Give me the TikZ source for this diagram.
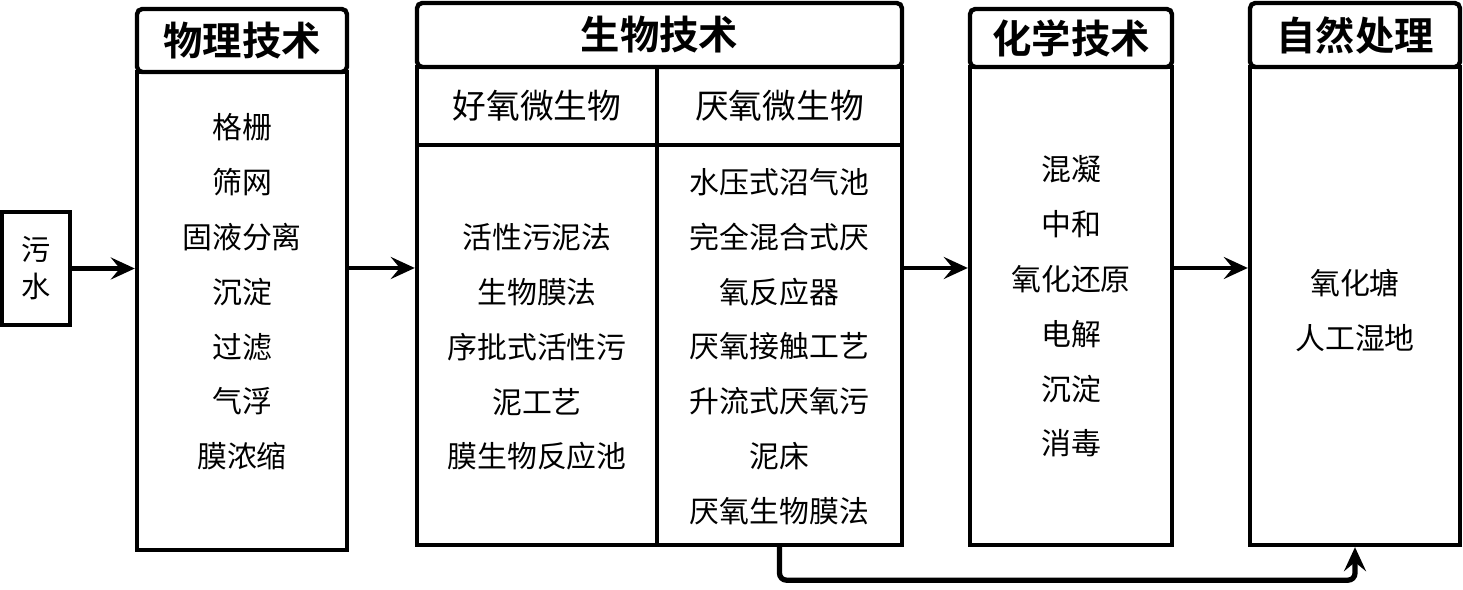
\documentclass[tikz,border=0pt]{standalone}
\usepackage{fontspec}
\setmainfont{Noto Sans CJK SC}[BoldFont={Noto Sans CJK SC Bold}]
\usetikzlibrary{arrows.meta,positioning}
\tikzset{
  >={Stealth[length=2.4mm,width=2.2mm,inset=0.9mm]},
  head/.style={draw,line width=1.25pt,rounded corners=1.5pt,minimum width=#1,
    minimum height=6.4mm,inner sep=0pt,font=\fontsize{11.2}{13}\selectfont\bfseries},
  head/.default=21mm,
  subhead/.style={draw,line width=1.25pt,minimum width=#1,minimum height=7.8mm,
    inner sep=0pt,font=\fontsize{9.6}{11}\selectfont},
  subhead/.default=24mm,
  panel/.style={draw,line width=1.25pt,minimum width=#1,inner sep=0pt},
  panel/.default=21mm,
  items/.style={align=center,inner sep=0pt,font=\fontsize{8.5}{15.6}\selectfont},
  flow/.style={->,line width=1.3pt},
}
\begin{document}
\begin{tikzpicture}
  \useasboundingbox (0,0) rectangle (14.63,-5.90);
  % source
  \node[panel=6.8mm,minimum height=11.3mm,align=center,
    font=\fontsize{8.3}{10.5}\selectfont] (water) at (0.36,-2.685) {污\\水};
  % physical
  \node[head=21mm,minimum height=6.3mm] (physhead) at (2.42,-0.405) {物理技术};
  \node[panel=21mm,minimum height=47.8mm] (physbody) at (2.42,-3.11) {};
  \node[items] (physlist) at (2.42,-2.92) {格栅\\筛网\\固液分离\\沉淀\\过滤\\气浮\\膜浓缩};
  % biological
  \node[head=48.5mm] (biohead) at (6.595,-0.35) {生物技术};
  \node[subhead=24mm] (aerohead) at (5.37,-1.06) {好氧微生物};
  \node[subhead=24.5mm] (anaerohead) at (7.795,-1.06) {厌氧微生物};
  \node[panel=24mm,minimum height=40mm] (bioL) at (5.37,-3.45) {};
  \node[panel=24.5mm,minimum height=40mm] (bioR) at (7.795,-3.45) {};
  \node[items] (aerolist) at (5.37,-3.47) {活性污泥法\\生物膜法\\序批式活性污\\泥工艺\\膜生物反应池};
  \node[items] (anaerolist) at (7.795,-3.465) {水压式沼气池\\完全混合式厌\\氧反应器\\厌氧接触工艺\\升流式厌氧污\\泥床\\厌氧生物膜法};
  % chemical
  \node[head=20.2mm,minimum height=5.8mm] (chemhead) at (10.71,-0.38) {化学技术};
  \node[panel=20.2mm,minimum height=47.8mm] (chembody) at (10.71,-3.06) {};
  \node[items] (chemlist) at (10.71,-3.065) {混凝\\中和\\氧化还原\\电解\\沉淀\\消毒};
  % natural
  \node[head=21mm] (nathead) at (13.55,-0.35) {自然处理};
  \node[panel=21mm,minimum height=47.8mm] (natbody) at (13.55,-3.06) {};
  \node[items] (natlist) at (13.55,-3.105) {氧化塘\\人工湿地};
  % connectors
  \coordinate (lvl) at (0,-2.68);
  \draw[flow] (water.east) -- (water.east -| physbody.west);
  \draw[flow] (physbody.east |- lvl) -- (lvl -| bioL.west);
  \draw[flow] (bioR.east |- lvl) -- (lvl -| chembody.west);
  \draw[flow] (chembody.east |- lvl) -- (lvl -| natbody.west);
  \draw[flow,line width=1.5pt,rounded corners=2pt] (bioR.south) -- ++(0,-0.33) -| (natbody.south);
\end{tikzpicture}
\end{document}
